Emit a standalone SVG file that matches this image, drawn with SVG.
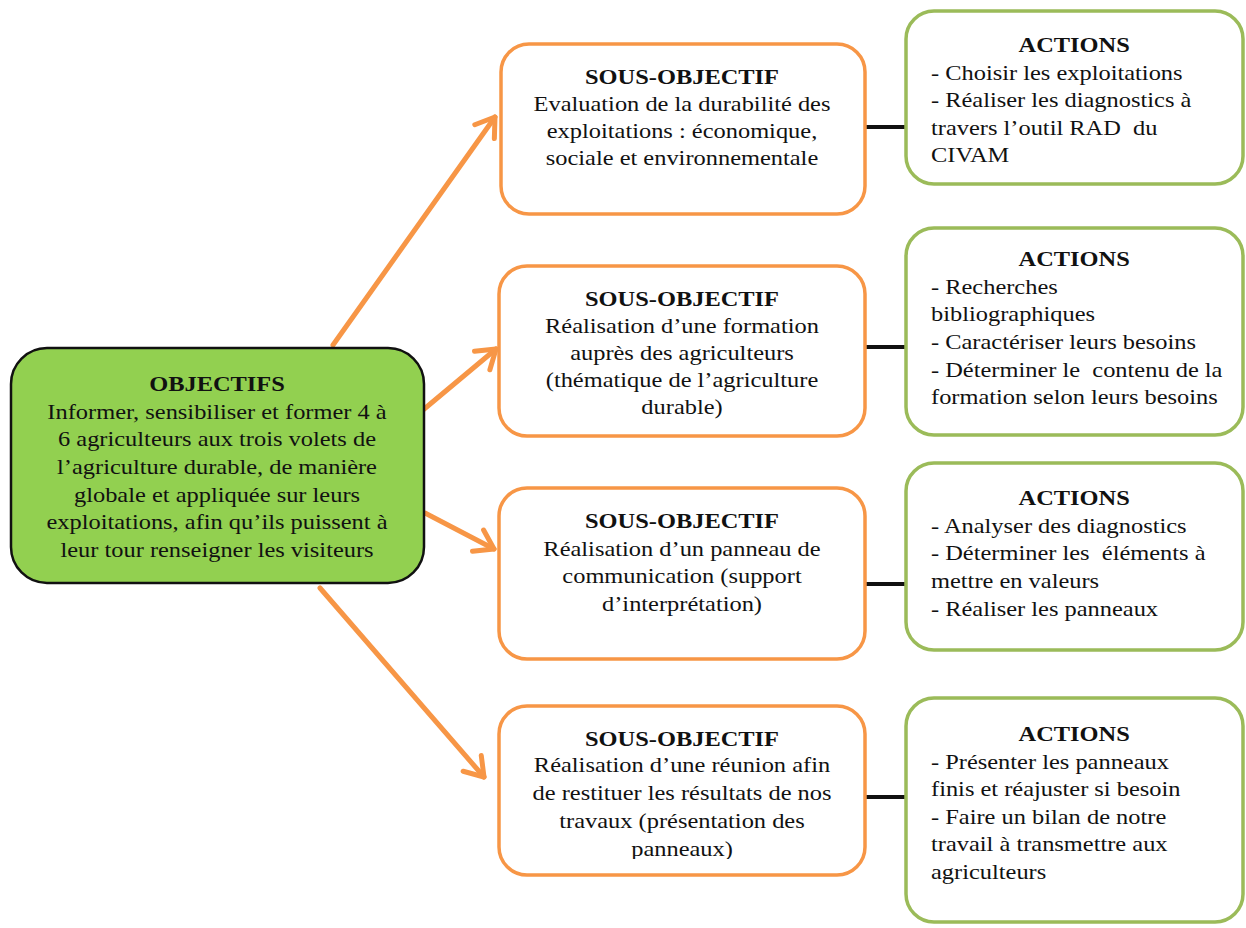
<svg xmlns="http://www.w3.org/2000/svg" width="1246" height="928" viewBox="0 0 1246 928">
  <style>
    text { font-family: "Liberation Serif", "Times New Roman", serif; font-size: 22px; fill: #111; white-space: pre; }
    .c { text-anchor: middle; }
    .b { font-weight: bold; }
    .main { fill: #92D050; stroke: #111; stroke-width: 2.5; }
    .sub { fill: #fff; stroke: #F79646; stroke-width: 3.5; }
    .act { fill: #fff; stroke: #9BBB59; stroke-width: 3.5; }
    .arrow { stroke: #F79646; stroke-width: 5; fill: none; stroke-linecap: round; }
    .link { stroke: #111; stroke-width: 4; fill: none; }
  </style>
  <defs>
    <marker id="chev" markerUnits="userSpaceOnUse" markerWidth="40" markerHeight="40" viewBox="-24 -20 30 40" refX="0" refY="0" orient="auto">
      <path d="M-18,-12 L0,0 L-18,12" fill="none" stroke="#F79646" stroke-width="5" stroke-linecap="round" stroke-linejoin="round"/>
    </marker>
    <clipPath id="clip-sub2"><rect x="500" y="265" width="365" height="168"/></clipPath>
    <clipPath id="clip-sub4"><rect x="500" y="705" width="365" height="154"/></clipPath>
  </defs>

  <!-- connectors -->
  <g id="connectors">
    <line class="arrow" x1="333" y1="345" x2="495" y2="117" marker-end="url(#chev)"/>
    <line class="arrow" x1="423" y1="410" x2="496" y2="349" marker-end="url(#chev)"/>
    <line class="arrow" x1="425" y1="513" x2="494" y2="549" marker-end="url(#chev)"/>
    <line class="arrow" x1="320" y1="588" x2="484" y2="777" marker-end="url(#chev)"/>
    <line class="link" x1="865" y1="127" x2="905" y2="127"/>
    <line class="link" x1="865" y1="347" x2="905" y2="347"/>
    <line class="link" x1="865" y1="584" x2="905" y2="584"/>
    <line class="link" x1="865" y1="797" x2="905" y2="797"/>
  </g>

  <!-- main objective -->
  <g id="objectifs">
    <rect class="main" x="11" y="348" width="413" height="235" rx="36"/>
    <g transform="translate(217,0) scale(1.11,1)">
      <text class="c b" x="0" y="391">OBJECTIFS</text>
      <text class="c" x="0" y="419">Informer, sensibiliser et former 4 à</text>
      <text class="c" x="0" y="446">6 agriculteurs aux trois volets de</text>
      <text class="c" x="0" y="474">l’agriculture durable, de manière</text>
      <text class="c" x="0" y="502">globale et appliquée sur leurs</text>
      <text class="c" x="0" y="529">exploitations, afin qu’ils puissent à</text>
      <text class="c" x="0" y="557">leur tour renseigner les visiteurs</text>
    </g>
  </g>

  <!-- sub-objectives -->
  <g id="sous-objectif-1">
    <rect class="sub" x="501" y="44" width="364" height="170" rx="28"/>
    <g transform="translate(682,0) scale(1.11,1)">
      <text class="c b" x="0" y="84">SOUS-OBJECTIF</text>
      <text class="c" x="0" y="111">Evaluation de la durabilité des</text>
      <text class="c" x="0" y="138">exploitations : économique,</text>
      <text class="c" x="0" y="165">sociale et environnementale</text>
    </g>
  </g>

  <g id="sous-objectif-2">
    <rect class="sub" x="499" y="266" width="366" height="170" rx="28"/>
    <g clip-path="url(#clip-sub2)">
      <g transform="translate(682,0) scale(1.11,1)">
        <text class="c b" x="0" y="306">SOUS-OBJECTIF</text>
        <text class="c" x="0" y="333">Réalisation d’une formation</text>
        <text class="c" x="0" y="360">auprès des agriculteurs</text>
        <text class="c" x="0" y="387">(thématique de l’agriculture</text>
        <text class="c" x="0" y="414">durable)</text>
      </g>
    </g>
  </g>

  <g id="sous-objectif-3">
    <rect class="sub" x="499" y="488" width="366" height="171" rx="28"/>
    <g transform="translate(682,0) scale(1.11,1)">
      <text class="c b" x="0" y="528">SOUS-OBJECTIF</text>
      <text class="c" x="0" y="556">Réalisation d’un panneau de</text>
      <text class="c" x="0" y="583">communication (support</text>
      <text class="c" x="0" y="611">d’interprétation)</text>
    </g>
  </g>

  <g id="sous-objectif-4">
    <rect class="sub" x="499" y="706" width="366" height="169" rx="28"/>
    <g clip-path="url(#clip-sub4)">
      <g transform="translate(682,0) scale(1.11,1)">
        <text class="c b" x="0" y="746">SOUS-OBJECTIF</text>
        <text class="c" x="0" y="772">Réalisation d’une réunion afin</text>
        <text class="c" x="0" y="800">de restituer les résultats de nos</text>
        <text class="c" x="0" y="828">travaux (présentation des</text>
        <text class="c" x="0" y="856">panneaux)</text>
      </g>
    </g>
  </g>

  <!-- actions -->
  <g id="actions-1">
    <rect class="act" x="906" y="11" width="337" height="173" rx="28"/>
    <g transform="translate(931,0) scale(1.11,1)">
      <text class="c b" x="129" y="52">ACTIONS</text>
      <text x="0" y="80">- Choisir les exploitations</text>
      <text x="0" y="107">- Réaliser les diagnostics à</text>
      <text x="0" y="135">travers l’outil RAD  du</text>
      <text x="0" y="162">CIVAM</text>
    </g>
  </g>

  <g id="actions-2">
    <rect class="act" x="906" y="228" width="337" height="207" rx="28"/>
    <g transform="translate(931,0) scale(1.11,1)">
      <text class="c b" x="129" y="266">ACTIONS</text>
      <text x="0" y="294">- Recherches</text>
      <text x="0" y="321">bibliographiques</text>
      <text x="0" y="349">- Caractériser leurs besoins</text>
      <text x="0" y="377">- Déterminer le  contenu de la</text>
      <text x="0" y="404">formation selon leurs besoins</text>
    </g>
  </g>

  <g id="actions-3">
    <rect class="act" x="906" y="463" width="337" height="187" rx="28"/>
    <g transform="translate(931,0) scale(1.11,1)">
      <text class="c b" x="129" y="505">ACTIONS</text>
      <text x="0" y="533">- Analyser des diagnostics</text>
      <text x="0" y="560">- Déterminer les  éléments à</text>
      <text x="0" y="588">mettre en valeurs</text>
      <text x="0" y="616">- Réaliser les panneaux</text>
    </g>
  </g>

  <g id="actions-4">
    <rect class="act" x="906" y="698" width="337" height="224" rx="28"/>
    <g transform="translate(931,0) scale(1.11,1)">
      <text class="c b" x="129" y="741">ACTIONS</text>
      <text x="0" y="769">- Présenter les panneaux</text>
      <text x="0" y="796">finis et réajuster si besoin</text>
      <text x="0" y="824">- Faire un bilan de notre</text>
      <text x="0" y="851">travail à transmettre aux</text>
      <text x="0" y="879">agriculteurs</text>
    </g>
  </g>
</svg>
